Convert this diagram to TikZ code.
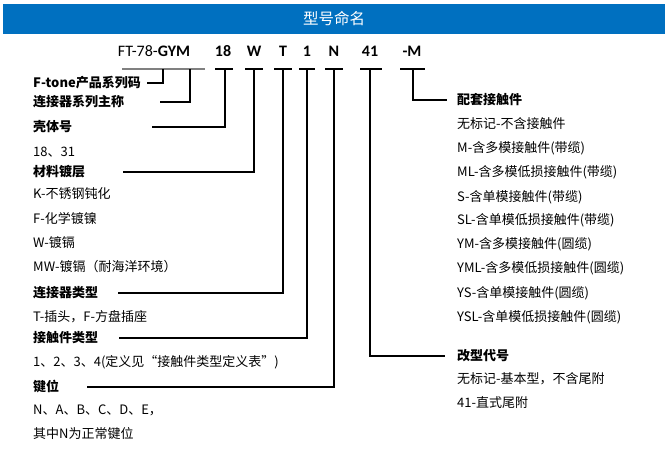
\documentclass[tikz,border=0pt]{standalone}
\usepackage{fontspec}
\setmainfont{Noto Sans CJK SC}
\newfontfamily\codefont{Carlito}
\definecolor{bannerblue}{RGB}{0,112,192}

\begin{document}
\begin{tikzpicture}[x=1pt,y=-1pt]

			\tikzstyle{banner} = [rectangle, fill=bannerblue, minimum width=662pt, minimum height=30pt, text=white, font=\fontsize{15.5}{18}\selectfont]
			\tikzstyle{code} = [anchor=base, inner sep=0pt, font=\codefont\fontsize{16}{18}\selectfont\bfseries]
			\tikzstyle{title} = [anchor=west, inner sep=0pt, font=\fontsize{13}{15}\selectfont\bfseries]
			\tikzstyle{item} = [anchor=west, inner sep=0pt, font=\fontsize{13}{15}\selectfont]
			\tikzstyle{uline} = [line width=1.8pt]
			\tikzstyle{link} = [line width=1.8pt]

			\useasboundingbox (0,0) rectangle (669,455);

			% Banner
			\node (head) [banner] at (334,19) {型号命名};

			% Code
			\node (cGYM) [code] at (154,56) {\mdseries FT-78-\bfseries GYM};
			\node (c18) [code] at (223,56) {18};
			\node (cW) [code] at (254,56) {W};
			\node (cT) [code] at (283,56) {T};
			\node (c1) [code] at (307,56) {1};
			\node (cN) [code] at (334,56) {N};
			\node (c41) [code] at (370,56) {41};
			\node (cM) [code] at (412,56) {-M};

			% Underlines
			\draw [uline, gray] (122,69) -- (205,69);
			\draw [uline] (215,69) -- (233,69);
			\draw [uline] (245,69) -- (263,69);
			\draw [uline] (274,69) -- (292,69);
			\draw [uline] (299,69) -- (315,69);
			\draw [uline] (325,69) -- (343,69);
			\draw [uline] (360,69) -- (382,69);
			\draw [uline] (400,69) -- (425,69);

			\coordinate (uTone) at (163,69);
			\coordinate (uSeries) at (190,69);
			\coordinate (u18) at (225,69);
			\coordinate (uW) at (254,69);
			\coordinate (uT) at (283,69);
			\coordinate (u1) at (307,69);
			\coordinate (uN) at (334,69);
			\coordinate (u41) at (370,69);
			\coordinate (uM) at (413,69);

			% Left column
			\node (tone) [title] at (33,83) {F-tone产品系列码};
			\node (series) [title] at (33,102) {连接器系列主称};
			\node (shell) [title] at (33,127) {壳体号};
			\node (shell1) [item] at (33,152) {18、31};
			\node (plating) [title] at (33,172) {材料镀层};
			\node (plating1) [item] at (33,194) {K-不锈钢钝化};
			\node (plating2) [item] at (33,219) {F-化学镀镍};
			\node (plating3) [item] at (33,243) {W-镀镉};
			\node (plating4) [item] at (33,267) {MW-镀镉（耐海洋环境）};
			\node (conn) [title] at (33,293) {连接器类型};
			\node (conn1) [item] at (33,317) {T-插头，F-方盘插座};
			\node (contact) [title] at (33,338) {接触件类型};
			\node (contact1) [item] at (33,362) {1、2、3、4(定义见“接触件类型定义表”)};
			\node (key) [title] at (33,387) {键位};
			\node (key1) [item] at (33,410) {N、A、B、C、D、E，};
			\node (key2) [item] at (33,434) {其中N为正常键位};

			% Right column
			\node (mate) [title] at (457,100) {配套接触件};
			\node (mate1) [item] at (457,124) {无标记-不含接触件};
			\node (mate2) [item] at (457,148) {M-含多模接触件(带缆)};
			\node (mate3) [item] at (457,172) {ML-含多模低损接触件(带缆)};
			\node (mate4) [item] at (457,197) {S-含单模接触件(带缆)};
			\node (mate5) [item] at (457,220) {SL-含单模低损接触件(带缆)};
			\node (mate6) [item] at (457,244) {YM-含多模接触件(圆缆)};
			\node (mate7) [item] at (457,268) {YML-含多模低损接触件(圆缆)};
			\node (mate8) [item] at (457,293) {YS-含单模接触件(圆缆)};
			\node (mate9) [item] at (457,317) {YSL-含单模低损接触件(圆缆)};
			\node (mod) [title] at (457,356) {改型代号};
			\node (mod1) [item] at (457,379) {无标记-基本型，不含尾附};
			\node (mod2) [item] at (457,403) {41-直式尾附};

			% Line ends
			\coordinate (toneEnd) at (147,83);
			\coordinate (seriesEnd) at (160,102);
			\coordinate (shellEnd) at (152,127);
			\coordinate (platingEnd) at (123,172);
			\coordinate (connEnd) at (118,293);
			\coordinate (contactEnd) at (119,338);
			\coordinate (keyEnd) at (87,387);
			\coordinate (mateEnd) at (447,100);
			\coordinate (modEnd) at (445,356);

			% Links
			\draw [link] (uTone) |- (toneEnd);
			\draw [link] (uSeries) |- (seriesEnd);
			\draw [link] (u18) |- (shellEnd);
			\draw [link] (uW) |- (platingEnd);
			\draw [link] (uT) |- (connEnd);
			\draw [link] (u1) |- (contactEnd);
			\draw [link] (uN) |- (keyEnd);
			\draw [link] (uM) |- (mateEnd);
			\draw [link] (u41) |- (modEnd);

		\end{tikzpicture}
\end{document}
